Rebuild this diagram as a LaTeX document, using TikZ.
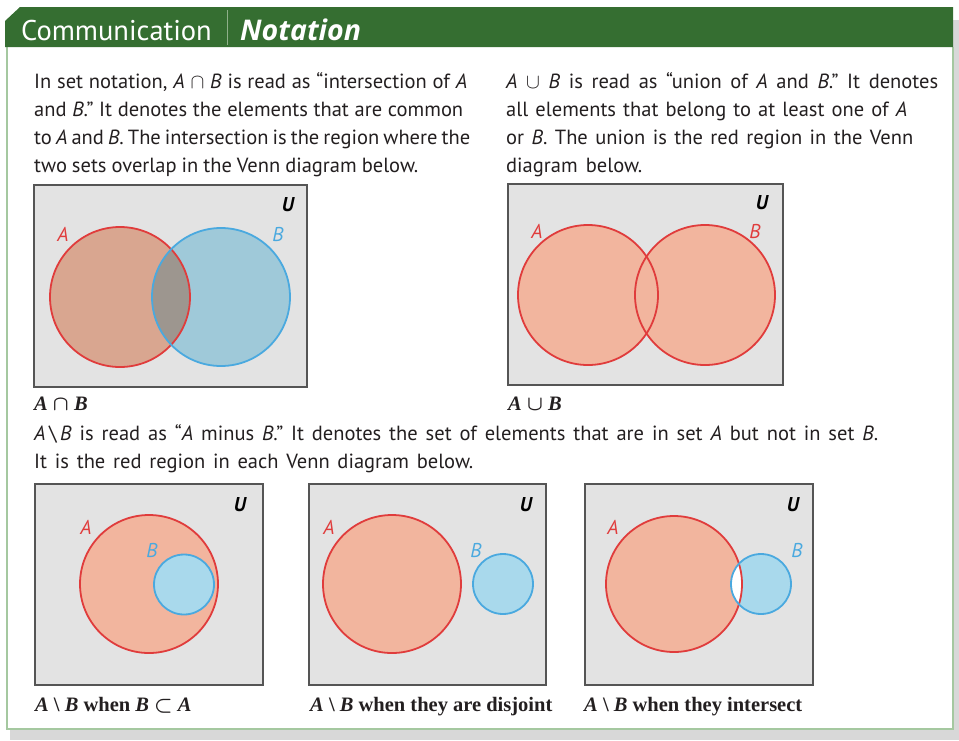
\documentclass[tikz,border=0pt]{standalone}
\usepackage{amsmath}
\usepackage{fontspec}
\setmainfont{Liberation Serif}
\setsansfont{PT Sans}
\newfontfamily\bodyfont{PT Sans}
\newfontfamily\hdrfont{Open Sans}
\definecolor{hdrgreen}{HTML}{356E31}
\definecolor{framegreen}{HTML}{A5C8A0}
\definecolor{sepgreen}{HTML}{8FB08A}
\definecolor{shadowgray}{HTML}{D8D8D8}
\definecolor{boxgray}{HTML}{E3E3E3}
\definecolor{boxline}{HTML}{555555}
\definecolor{redline}{HTML}{E03C3C}
\definecolor{blueline}{HTML}{4AA9DF}
\definecolor{salmon}{HTML}{F2B59E}
\definecolor{lightblue}{HTML}{A9D9EC}
\definecolor{afill}{HTML}{D9A690}
\definecolor{bfill}{HTML}{9FC9D9}
\definecolor{abfill}{HTML}{9D968F}
\definecolor{bodytext}{HTML}{231F20}
\tikzset{
  body/.style={anchor=base west, inner sep=0pt, text=bodytext, font=\bodyfont\fontsize{20.5}{28}\selectfont},
  universe/.style={fill=boxgray, draw=boxline, line width=1.6pt},
  redcirc/.style={draw=redline, line width=1.8pt},
  bluecirc/.style={draw=blueline, line width=1.8pt},
  lab/.style={inner sep=0pt, font=\bodyfont\itshape\fontsize{20}{20}\selectfont},
  ulab/.style={lab, text=black, font=\bodyfont\bfseries\itshape\fontsize{20}{20}\selectfont},
  caption/.style={anchor=base west, inner sep=0pt, text=bodytext, font=\bfseries\fontsize{20.5}{20.5}\selectfont}
}
\newcommand{\ia}{\textit{A}}
\newcommand{\ib}{\textit{B}}
\newcommand{\fitline}[2]{\makebox[#1pt][s]{#2}}
\begin{document}
\begin{tikzpicture}[x=1pt,y=-1pt]
\useasboundingbox (0,0) rectangle (959,740);
% shadow and frame
\fill[shadowgray] (953,20) rectangle (959,740);
\fill[shadowgray] (10,729) rectangle (959,740);
\fill[white] (7,47) rectangle (953,729);
\draw[framegreen, line width=1.5pt] (7,47) -- (7,729) -- (953,729) -- (953,47);
% header
\fill[hdrgreen] (5,21) -- (20,7) -- (953,7) -- (953,47) -- (5,47) -- cycle;
\draw[sepgreen, line width=1pt] (227,10) -- (227,45);
\node[anchor=base west, inner sep=0pt, text=white, font=\bodyfont\fontsize{28.5}{28.5}\selectfont] (hcomm) at (21,40) {Communication};
\node[anchor=base west, inner sep=0pt, text=white, font=\hdrfont\bfseries\itshape\fontsize{28.5}{28.5}\selectfont] (hnot) at (240,40) {Notation};
% left paragraph
\node[body] (l1) at (34,88) {\fitline{433}{In set notation, \ia{} $\cap$ \ib{} is read as “intersection of \ia}};
\node[body] (l2) at (34,116) {\fitline{429}{and \ib.” It denotes the elements that are common}};
\node[body] (l3) at (34,144) {\fitline{436}{to \ia{} and \ib. The intersection is the region where the}};
\node[body] (l4) at (34,172) {\fitline{384}{two sets overlap in the Venn diagram below.}};
% right paragraph
\node[body] (r1) at (506,88) {\fitline{432}{\ia{} $\cup$ \ib{} is read as “union of \ia{} and \ib.” It denotes}};
\node[body] (r2) at (506,116) {\fitline{401}{all elements that belong to at least one of \ia}};
\node[body] (r3) at (506,144) {\fitline{407}{or \ib. The union is the red region in the Venn}};
\node[body] (r4) at (506,172) {\fitline{136}{diagram below.}};
% middle paragraph
\node[body] (m1) at (34,440) {\fitline{844}{\ia{}\,\textbackslash\,\ib{} is read as “\ia{} minus \ib.” It denotes the set of elements that are in set \ia{} but not in set \ib.}};
\node[body] (m2) at (34,468) {\fitline{439}{It is the red region in each Venn diagram below.}};
% ---- diagram 1: intersection
\draw[universe] (34,185) rectangle (307,387);
\fill[afill] (120,297) circle (70);
\fill[bfill] (221,297) circle (69);
\begin{scope}
  \clip (120,297) circle (70);
  \fill[abfill] (221,297) circle (69);
\end{scope}
\draw[redcirc] (120,297) circle (70);
\draw[bluecirc] (221,297) circle (69);
\node[lab, text=redline] (d1a) at (63,234) {A};
\node[lab, text=blueline] (d1b) at (278,234) {B};
\node[ulab] (d1u) at (288,205) {U};
\node[caption] (c1) at (34,410) {\textit{A} $\boldsymbol{\cap}$ \textit{B}};
% ---- diagram 2: union
\draw[universe] (508,184) rectangle (783,385);
\fill[salmon] (588,295) circle (70);
\fill[salmon] (705,295) circle (70);
\draw[redcirc] (588,295) circle (70);
\draw[redcirc] (705,295) circle (70);
\node[lab, text=redline] (d2a) at (537,231) {A};
\node[lab, text=redline] (d2b) at (755,231) {B};
\node[ulab] (d2u) at (762,203) {U};
\node[caption] (c2) at (508,410) {\textit{A} $\boldsymbol{\cup}$ \textit{B}};
% ---- diagram 3: B subset A
\draw[universe] (35,484) rectangle (263,685);
\fill[salmon] (149,584) circle (69);
\fill[lightblue] (184,584.5) circle (30);
\draw[redcirc] (149,584) circle (69);
\draw[bluecirc] (184,584.5) circle (30);
\node[lab, text=redline] (d3a) at (86,527) {A};
\node[lab, text=blueline] (d3b) at (152,550) {B};
\node[ulab] (d3u) at (240,505) {U};
\node[caption] (c3) at (35,711) {\textit{A} \textbackslash\ \textit{B} when \textit{B} $\boldsymbol{\subset}$ \textit{A}};
% ---- diagram 4: disjoint
\draw[universe] (309,484) rectangle (546,685);
\fill[salmon] (392,584) circle (69);
\fill[lightblue] (503,584) circle (30);
\draw[redcirc] (392,584) circle (69);
\draw[bluecirc] (503,584) circle (30);
\node[lab, text=redline] (d4a) at (329,527) {A};
\node[lab, text=blueline] (d4b) at (476,550) {B};
\node[ulab] (d4u) at (526,505) {U};
\node[caption] (c4) at (310,711) {\textit{A} \textbackslash\ \textit{B} when they are disjoint};
% ---- diagram 5: intersecting
\draw[universe] (585,484) rectangle (813,685);
\fill[salmon] (674,584) circle (68);
\fill[lightblue] (761,584) circle (30);
\begin{scope}
  \clip (674,584) circle (68);
  \fill[white] (761,584) circle (30);
\end{scope}
\draw[redcirc] (674,584) circle (68);
\draw[bluecirc] (761,584) circle (30);
\node[lab, text=redline] (d5a) at (613,527) {A};
\node[lab, text=blueline] (d5b) at (797,550) {B};
\node[ulab] (d5u) at (793,505) {U};
\node[caption] (c5) at (584,711) {\textit{A} \textbackslash\ \textit{B} when they intersect};
\end{tikzpicture}
\end{document}
